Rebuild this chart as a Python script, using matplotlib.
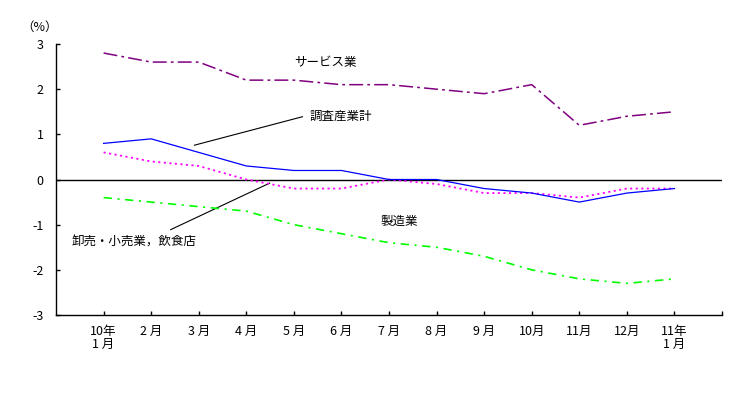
import matplotlib
matplotlib.use("Agg")
import matplotlib.pyplot as plt

plt.rcParams['font.family'] = ['Noto Sans CJK JP', 'DejaVu Sans']
plt.rcParams['lines.scale_dashes'] = False

# ---------------- DATA ----------------
months = ["10年\n1 月", "2 月", "3 月", "4 月", "5 月", "6 月", "7 月",
          "8 月", "9 月", "10月", "11月", "12月", "11年\n1 月"]
total = [0.8, 0.9, 0.6, 0.3, 0.2, 0.2, 0.0, 0.0, -0.2, -0.3, -0.5, -0.3, -0.2]
service = [2.8, 2.6, 2.6, 2.2, 2.2, 2.1, 2.1, 2.0, 1.9, 2.1, 1.2, 1.4, 1.5]
wholesale = [0.6, 0.4, 0.3, 0.0, -0.2, -0.2, 0.0, -0.1, -0.3, -0.3, -0.4, -0.2, -0.2]
manufacturing = [-0.4, -0.5, -0.6, -0.7, -1.0, -1.2, -1.4, -1.5, -1.7, -2.0, -2.2, -2.3, -2.2]

x = list(range(len(months)))

# ---------------- PLOT ----------------
fig = plt.figure(figsize=(7.49, 3.99), dpi=100)
ax = fig.add_axes([0.0748, 0.2105, 0.8892, 0.6792])

ax.axhline(0, color="black", linewidth=1.0, zorder=1)

ax.plot(x, service, color="#800080", linewidth=1.1, dashes=(10, 3, 2, 3), zorder=3)
ax.plot(x, manufacturing, color="#00FF00", linewidth=1.2, dashes=(6, 4, 1.5, 4), zorder=3)
ax.plot(x, wholesale, color="#FF00FF", linewidth=1.3, dashes=(1.5, 2.5), zorder=3)
ax.plot(x, total, color="#0000FF", linewidth=0.9, zorder=4)

# ---------------- LABELS ----------------
fs = 9
ax.text(4.66, 2.59, "サービス業", fontsize=fs, ha="center", va="center")
ax.text(6.22, -0.92, "製造業", fontsize=fs, ha="center", va="center")

ax.plot([1.91, 4.18], [0.76, 1.39], color="black", linewidth=0.8)
ax.text(4.32, 1.40, "調査産業計", fontsize=fs, ha="left", va="center")

ax.plot([1.41, 3.49], [-1.11, -0.08], color="black", linewidth=0.8)
ax.text(-0.67, -1.38, "卸売・小売業，飲食店", fontsize=fs, ha="left", va="center")

fig.text(0.029, 0.932, "（%）", fontsize=fs, ha="left", va="center")

# ---------------- AXES ----------------
ax.set_xlim(-1, 13)
ax.set_ylim(-3, 3)
ax.set_yticks([-3, -2, -1, 0, 1, 2, 3])
ax.set_yticklabels(["-3", "-2", "-1", "0", "1", "2", "3"])
ax.set_xticks(x + [13])
ax.set_xticklabels(months + [""])

for s in ["top", "right"]:
    ax.spines[s].set_visible(False)
ax.spines["left"].set_linewidth(1.0)
ax.spines["bottom"].set_linewidth(1.0)
ax.tick_params(axis="both", direction="in", length=3, width=1.0, labelsize=fs)
ax.tick_params(axis="y", pad=9)
ax.tick_params(axis="x", pad=7)
for lbl in ax.get_xticklabels():
    lbl.set_linespacing(1.05)

fig.savefig("out.png", dpi=100)
plt.close(fig)
